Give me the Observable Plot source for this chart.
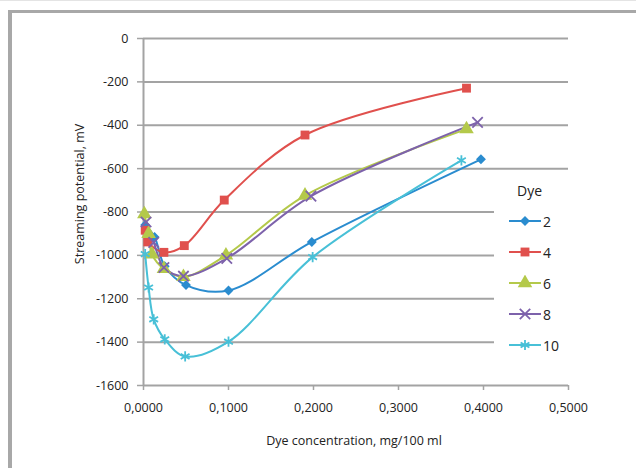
<!DOCTYPE html>
<html>
<head>
<meta charset="utf-8">
<script src="https://cdn.jsdelivr.net/npm/d3@7"></script>
<script src="https://cdn.jsdelivr.net/npm/@observablehq/plot@0.6"></script>
<style>
  html, body { margin: 0; padding: 0; background: #fff; }
  #wrap { position: relative; width: 636px; height: 468px; overflow: hidden; font-family: "Open Sans", sans-serif; color: #222; }
  .txt { position: absolute; white-space: nowrap; font-size: 12.5px; }
</style>
</head>
<body>
<div id="wrap"></div>
<script>
// ---- data ----
const seriesNames = ["2", "4", "6", "8", "10"];
const conc2  = [0.002, 0.013, 0.025, 0.050, 0.100, 0.198, 0.397];
const pot2   = [-860, -915, -1050, -1137, -1162, -938, -557];
const conc4  = [0.002, 0.005, 0.024, 0.048, 0.095, 0.190, 0.380];
const pot4   = [-884, -938, -986, -955, -745, -445, -229];
const conc6  = [0.001, 0.006, 0.010, 0.024, 0.047, 0.097, 0.190, 0.380];
const pot6   = [-810, -900, -995, -1062, -1099, -1000, -724, -418];
const conc8  = [0.003, 0.012, 0.024, 0.047, 0.098, 0.197, 0.393];
const pot8   = [-846, -940, -1056, -1096, -1014, -727, -387];
const conc10 = [0.002, 0.006, 0.012, 0.025, 0.049, 0.100, 0.199, 0.374];
const pot10  = [-994, -1148, -1295, -1387, -1466, -1398, -1008, -562];
const xTicks = [0, 0.1, 0.2, 0.3, 0.4, 0.5];
const yTicks = [0, -200, -400, -600, -800, -1000, -1200, -1400, -1600];

const colors  = ["#2a8ccf", "#e0504d", "#b4c94a", "#7d62ab", "#48c0d7"];
const diamondSq = {
  draw(ctx, size) {
    const r = Math.sqrt(size) * 0.56;
    ctx.moveTo(0, -r); ctx.lineTo(r, 0); ctx.lineTo(0, r); ctx.lineTo(-r, 0); ctx.closePath();
  }
};
const symbols = [diamondSq, d3.symbolSquare, d3.symbolTriangle, d3.symbolTimes, d3.symbolAsterisk];
const filled  = [true, true, true, false, false];
const radius  = [5, 5, 5.4, 4.8, 4.8];

const concs = [conc2, conc4, conc6, conc8, conc10];
const pots  = [pot2, pot4, pot6, pot8, pot10];
const table = seriesNames.map((name, i) =>
  concs[i].map((c, j) => ({dye: name, conc: c, pot: pots[i][j]})));

const gridColor = "#a3a3a3";
const marks = [
  Plot.ruleY(yTicks, {stroke: gridColor, strokeWidth: 2}),
  Plot.ruleX([0], {stroke: gridColor, strokeWidth: 2}),
  Plot.axisY({ticks: yTicks, tickSize: 6, tickPadding: 9, tickFormat: d => String(d),
              label: null, stroke: gridColor, strokeWidth: 1.5, fontSize: 12.5}),
  Plot.axisX({ticks: xTicks, tickSize: 5, tickPadding: 13, tickFormat: d => d.toFixed(4).replace(".", ","),
              label: null, stroke: gridColor, strokeWidth: 1.5, fontSize: 12.5})
];
table.forEach((rows, i) => {
  marks.push(Plot.line(rows, {x: "conc", y: "pot", stroke: colors[i], strokeWidth: 2, curve: "catmull-rom"}));
});
table.forEach((rows, i) => {
  marks.push(Plot.dot(rows, filled[i]
    ? {x: "conc", y: "pot", symbol: symbols[i], r: radius[i], fill: colors[i], stroke: "none"}
    : {x: "conc", y: "pot", symbol: symbols[i], r: radius[i], stroke: colors[i], strokeWidth: 1.8, fill: "none"}));
});

const chart = Plot.plot({
  width: 636, height: 468,
  marginLeft: 143, marginRight: 68, marginTop: 38, marginBottom: 83,
  style: {fontFamily: "'Open Sans', sans-serif", fontSize: "12.5px", color: "#222", background: "transparent"},
  x: {domain: [0, 0.5]},
  y: {domain: [-1600, 0]},
  marks
});

const wrap = document.getElementById("wrap");
chart.style.position = "absolute";
chart.style.left = "0px";
chart.style.top = "0px";
wrap.appendChild(chart);

// frame borders
function box(l, t, w, h, bg) {
  const d = document.createElement("div");
  Object.assign(d.style, {position: "absolute", left: l + "px", top: t + "px", width: w + "px", height: h + "px", background: bg});
  wrap.appendChild(d);
  return d;
}
box(0, 0, 636, 1, "#e4e4e4");
box(8, 10, 628, 3, "#a8a8a8");
box(8, 10, 4, 458, "#a8a8a8");

// axis titles
const yTitle = document.createElement("div");
yTitle.className = "txt";
yTitle.textContent = "Streaming potential, mV";
Object.assign(yTitle.style, {left: "79px", top: "194px", transform: "translate(-50%,-50%) rotate(-90deg)"});
wrap.appendChild(yTitle);

const xTitle = document.createElement("div");
xTitle.className = "txt";
xTitle.textContent = "Dye concentration, mg/100 ml";
Object.assign(xTitle.style, {left: "354px", top: "440px", transform: "translate(-50%,-50%)"});
wrap.appendChild(xTitle);

// legend
const leg = box(494, 172, 100, 195, "#fff");
const legTitle = document.createElement("div");
legTitle.className = "txt";
legTitle.textContent = "Dye";
legTitle.style.fontSize = "14px";
Object.assign(legTitle.style, {left: "23px", top: "18px", transform: "translateY(-50%)"});
leg.appendChild(legTitle);
seriesNames.forEach((name, i) => {
  const cy = 49 + i * 31;
  const svg = d3.create("svg").attr("width", 40).attr("height", 16)
    .style("position", "absolute").style("left", "14px").style("top", (cy - 8) + "px");
  svg.append("line").attr("x1", 1).attr("x2", 33).attr("y1", 8).attr("y2", 8)
    .attr("stroke", colors[i]).attr("stroke-width", 2);
  const sym = d3.symbol(symbols[i], Math.PI * radius[i] * radius[i]);
  const p = svg.append("path").attr("d", sym()).attr("transform", "translate(17,8)");
  if (filled[i]) p.attr("fill", colors[i]);
  else p.attr("fill", "none").attr("stroke", colors[i]).attr("stroke-width", 1.8);
  leg.appendChild(svg.node());
  const lab = document.createElement("div");
  lab.className = "txt";
  lab.textContent = name;
  lab.style.fontSize = "14px";
  Object.assign(lab.style, {left: "49px", top: cy + "px", transform: "translateY(-50%)"});
  leg.appendChild(lab);
});
</script>
</body>
</html>
